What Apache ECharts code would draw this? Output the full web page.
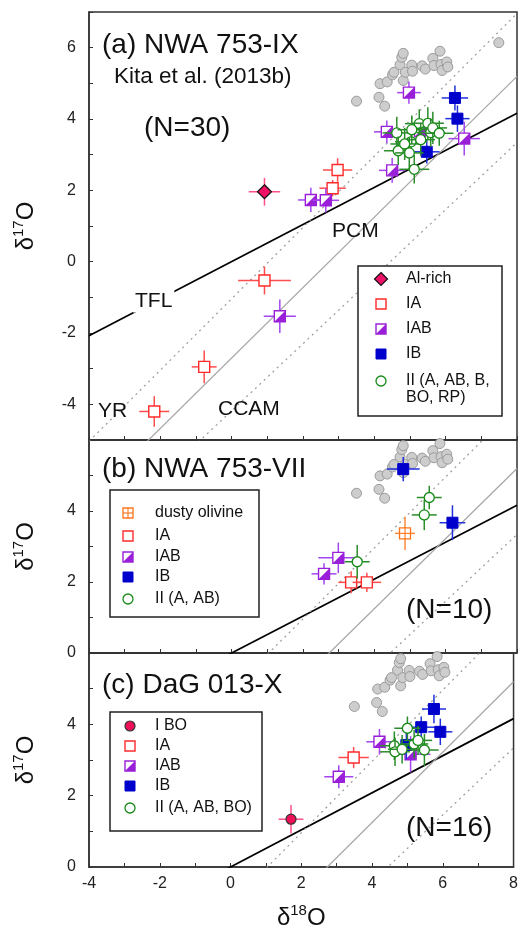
<!DOCTYPE html>
<html>
<head>
<meta charset="utf-8">
<script src="https://cdn.jsdelivr.net/npm/echarts@6/dist/echarts.min.js"></script>
<style>
  html, body { margin: 0; background: #fff; }
  #chart { width: 521px; height: 931px; }
</style>
</head>
<body>
<div id="chart"></div>
<script>
/* Three-panel oxygen three-isotope plot (d18O vs d17O), one grid per chondrule. */

// grey background cloud, same in every panel [d18O, d17O]
const GREY = [
  [3.50, 4.50], [4.13, 4.61], [4.29, 4.36], [4.16, 4.99], [4.36, 5.04],
  [4.51, 5.24], [4.55, 5.31], [4.72, 5.52], [4.77, 5.73], [4.81, 5.84],
  [4.81, 5.08], [4.87, 5.31], [5.05, 5.51], [5.07, 5.34], [5.34, 5.49],
  [5.43, 5.40], [5.64, 5.70], [5.67, 5.50], [5.84, 5.90], [5.87, 5.53],
  [5.90, 5.36], [6.03, 5.60], [6.06, 5.46], [7.49, 6.14],
];

// reference lines
const LINE_NAMES = ["TFL", "PCM", "YR", "CCAM"];
const LINE_SLOPE = [0.52, 0.987, 1.0, 0.94];
const LINE_ICEPT = [0, -2.70, -1.04, -4.18];

// points: [d18O, d17O, err d18O, err d17O]
// (a) NWA 753-IX
const A_ALRICH = [[0.92, 1.96, 0.44, 0.39]];
const A_IA = [
  [2.97, 2.57, 0.41, 0.33], [2.83, 2.06, 0.37, 0.23], [0.92, -0.53, 0.74, 0.39],
  [-0.77, -2.95, 0.35, 0.46], [-2.17, -4.20, 0.42, 0.43],
];
const A_IAB = [
  [4.97, 4.74, 0.33, 0.31], [2.22, 1.73, 0.36, 0.34], [2.64, 1.72, 0.37, 0.34],
  [1.35, -1.53, 0.45, 0.47], [4.35, 3.64, 0.36, 0.32], [5.28, 3.66, 0.37, 0.31],
  [6.52, 3.45, 0.44, 0.47], [4.50, 2.56, 0.37, 0.35],
];
const A_IB = [[6.26, 4.59, 0.37, 0.35], [6.33, 4.01, 0.34, 0.37], [5.47, 3.08, 0.36, 0.33]];
const A_II = [
  [4.63, 3.61, 0.40, 0.45], [5.03, 3.36, 0.45, 0.40], [4.67, 3.11, 0.40, 0.40],
  [4.98, 3.05, 0.40, 0.45], [5.12, 2.59, 0.42, 0.40], [5.26, 3.87, 0.40, 0.40],
  [5.50, 3.88, 0.45, 0.45], [5.58, 3.62, 0.40, 0.40], [5.64, 3.75, 0.40, 0.45],
  [5.82, 3.60, 0.40, 0.35], [5.30, 3.42, 0.40, 0.45], [5.05, 3.70, 0.40, 0.40],
  [4.85, 3.30, 0.40, 0.45],
];

// (b) NWA 753-VII
const B_DUSTY = [[4.86, 3.37, 0.28, 0.47]];
const B_IA = [[3.35, 1.99, 0.36, 0.31], [3.79, 1.99, 0.40, 0.27]];
const B_IAB = [[2.99, 2.68, 0.56, 0.43], [2.59, 2.23, 0.35, 0.30]];
const B_IB = [[4.81, 5.18, 0.46, 0.34], [6.19, 3.67, 0.36, 0.49]];
const B_II = [[3.52, 2.57, 0.35, 0.47], [5.54, 4.38, 0.35, 0.33], [5.40, 3.89, 0.35, 0.43]];

// (c) DaG 013-X
const C_IBO = [[1.71, 1.34, 0.35, 0.40]];
const C_IA = [[3.48, 3.07, 0.43, 0.30]];
const C_IAB = [[3.06, 2.53, 0.41, 0.32], [4.21, 3.51, 0.37, 0.36], [5.09, 3.16, 0.56, 0.51]];
const C_IB = [
  [5.75, 4.43, 0.34, 0.40], [5.39, 3.92, 0.42, 0.30], [5.93, 3.79, 0.34, 0.37],
  [4.97, 3.42, 0.40, 0.40],
];
const C_II = [
  [5.00, 3.89, 0.37, 0.33], [4.63, 3.40, 0.40, 0.40], [4.65, 3.23, 0.42, 0.40],
  [5.19, 3.45, 0.40, 0.40], [5.48, 3.28, 0.40, 0.45], [4.85, 3.30, 0.40, 0.40],
  [5.30, 3.55, 0.40, 0.40],
];

const X_MIN = -4, X_MAX = 8;
const Y_RANGES = [[-5, 7], [0, 6], [0, 6]];

// ---- looks ----
const FONT = '"Liberation Sans", Arial, sans-serif';
const KIND = {
  alrich: { shape: "diamond", col: "#ee1166", bar: "#ff4f8e" },
  ia: { shape: "openSquare", col: "#ff2a2a", bar: "#ff4d4d" },
  iab: { shape: "halfSquare", col: "#9a1fd8", bar: "#a445ee" },
  ib: { shape: "square", col: "#0000cc", bar: "#2030dd" },
  ii: { shape: "openCircle", col: "#168a16", bar: "#2a8c2a" },
  dusty: { shape: "gridSquare", col: "#ff7418", bar: "#ff8a3a" },
  ibo: { shape: "circle", col: "#ee1158", bar: "#ff4f8e" },
};

function markerEls(kind, cx, cy, s) {
  const k = KIND[kind], h = s / 2;
  switch (k.shape) {
    case "diamond":
      return [{ type: "polygon", shape: { points: [[cx, cy - h - 1.5], [cx + h + 1.5, cy], [cx, cy + h + 1.5], [cx - h - 1.5, cy]] },
        style: { fill: k.col, stroke: "#111", lineWidth: 1.2 } }];
    case "openSquare":
      return [{ type: "rect", shape: { x: cx - h, y: cy - h, width: s, height: s },
        style: { fill: "#fff", stroke: k.col, lineWidth: 1.4 } }];
    case "halfSquare":
      return [
        { type: "rect", shape: { x: cx - h, y: cy - h, width: s, height: s }, style: { fill: "#fff", stroke: k.col, lineWidth: 1.4 } },
        { type: "polygon", shape: { points: [[cx + h, cy - h], [cx + h, cy + h], [cx - h, cy + h]] }, style: { fill: k.col } },
      ];
    case "square":
      return [{ type: "rect", shape: { x: cx - h, y: cy - h, width: s, height: s }, style: { fill: k.col, stroke: k.col, lineWidth: 1 } }];
    case "openCircle":
      return [{ type: "circle", shape: { cx, cy, r: h }, style: { fill: "#fff", stroke: k.col, lineWidth: 1.3 } }];
    case "gridSquare":
      return [
        { type: "rect", shape: { x: cx - h, y: cy - h, width: s, height: s }, style: { fill: "#fff", stroke: k.col, lineWidth: 1.3 } },
        { type: "line", shape: { x1: cx, y1: cy - h, x2: cx, y2: cy + h }, style: { stroke: k.col, lineWidth: 1.1 } },
        { type: "line", shape: { x1: cx - h, y1: cy, x2: cx + h, y2: cy }, style: { stroke: k.col, lineWidth: 1.1 } },
      ];
    case "circle":
      return [{ type: "circle", shape: { cx, cy, r: h }, style: { fill: k.col, stroke: "#333", lineWidth: 1.2 } }];
  }
  return [];
}

function renderPt(kind) {
  return function (params, api) {
    const x = api.value(0), y = api.value(1), ex = api.value(2), ey = api.value(3);
    const c = api.coord([x, y]);
    const l = api.coord([x - ex, y]), r = api.coord([x + ex, y]);
    const t = api.coord([x, y + ey]), b = api.coord([x, y - ey]);
    const bar = KIND[kind].bar;
    return {
      type: "group",
      children: [
        { type: "line", shape: { x1: l[0], y1: l[1], x2: r[0], y2: r[1] }, style: { stroke: bar, lineWidth: 1.5 } },
        { type: "line", shape: { x1: t[0], y1: t[1], x2: b[0], y2: b[1] }, style: { stroke: bar, lineWidth: 1.5 } },
        ...markerEls(kind, c[0], c[1], kind === "ii" || kind === "ibo" ? 10 : 11),
      ],
    };
  };
}

const PANELS = [
  { top: 12, height: 428, sets: [["alrich", A_ALRICH], ["ia", A_IA], ["iab", A_IAB], ["ib", A_IB], ["ii", A_II]] },
  { top: 440, height: 213, sets: [["dusty", B_DUSTY], ["ia", B_IA], ["iab", B_IAB], ["ib", B_IB], ["ii", B_II]] },
  { top: 653, height: 214, sets: [["ibo", C_IBO], ["ia", C_IA], ["iab", C_IAB], ["ib", C_IB], ["ii", C_II]] },
];

const grid = [], xAxis = [], yAxis = [], series = [];
const AXIS_COL = "#333";
const supRich = {
  d: { fontSize: 24, fontFamily: FONT, color: "#111", lineHeight: 30 },
  s: { fontSize: 15, fontFamily: FONT, color: "#111", lineHeight: 30, verticalAlign: "top" },
};

PANELS.forEach((p, i) => {
  grid.push({ left: 89, right: 4, top: p.top, height: p.height, show: true, borderColor: AXIS_COL, borderWidth: 1.5 });
  const [ymin, ymax] = Y_RANGES[i];
  xAxis.push({
    gridIndex: i, type: "value", min: X_MIN, max: X_MAX, interval: 1,
    axisLine: { show: true, onZero: false, lineStyle: { color: AXIS_COL, width: 1.5 } },
    axisTick: { inside: true, length: 4, lineStyle: { color: AXIS_COL } },
    axisLabel: { show: i === 2, margin: 9, fontSize: 16, fontFamily: FONT, color: "#222",
      formatter: (v) => (v % 2 === 0 ? String(v) : "") },
    splitLine: { show: false },
    name: i === 2 ? "{d|δ}{s|18}{d|O}" : "",
    nameLocation: "middle", nameGap: 36,
    nameTextStyle: { rich: supRich },
  });
  yAxis.push({
    gridIndex: i, type: "value", min: ymin, max: ymax, interval: 1,
    axisLine: { show: true, onZero: false, lineStyle: { color: AXIS_COL, width: 1.5 } },
    axisTick: { inside: true, length: 4, lineStyle: { color: AXIS_COL } },
    axisLabel: { margin: 13, fontSize: 16, fontFamily: FONT, color: "#222",
      formatter: (v) => (v % 2 === 0 && (i === 0 || v < ymax) ? String(v) : "") },
    splitLine: { show: false },
    name: "{d|δ}{s|17}{d|O}", nameLocation: "middle", nameGap: 48, nameRotate: 90,
    nameTextStyle: { rich: supRich },
  });

  // grey cloud
  series.push({
    type: "scatter", xAxisIndex: i, yAxisIndex: i, data: GREY, clip: true, symbolSize: 10, z: 1,
    itemStyle: { color: "#cdcdcd", borderColor: "#9a9a9a", borderWidth: 1, opacity: 1 },
    silent: true,
  });

  // reference lines
  LINE_NAMES.forEach((nm, j) => {
    const isTFL = nm === "TFL", isPCM = nm === "PCM";
    series.push({
      type: "line", xAxisIndex: i, yAxisIndex: i, clip: true, silent: true, symbol: "none", z: 2,
      data: [[X_MIN, LINE_SLOPE[j] * X_MIN + LINE_ICEPT[j]], [X_MAX, LINE_SLOPE[j] * X_MAX + LINE_ICEPT[j]]],
      lineStyle: isTFL ? { color: "#000", width: 1.7 }
        : isPCM ? { color: "#a8a8a8", width: 1.3 }
        : { color: "#9a9a9a", width: 1.2, type: [2, 4] },
    });
  });

  // chondrule data
  p.sets.forEach(([kind, data]) => {
    series.push({
      type: "custom", xAxisIndex: i, yAxisIndex: i, coordinateSystem: "cartesian2d",
      data, clip: true, z: 5, encode: { x: 0, y: 1 }, renderItem: renderPt(kind),
    });
  });
});

// ---- annotations and legends (drawn as graphics) ----
function txt(text, x, y, size, extra) {
  return { type: "text", z: 50, style: Object.assign({ text, x, y, fill: "#111", font: `${size}px ${FONT}`, verticalAlign: "middle" }, extra || {}) };
}

function legendBox(box, mx, tx, rows) {
  const els = [{ type: "rect", z: 40, shape: { x: box[0], y: box[1], width: box[2], height: box[3] },
    style: { fill: "#fff", stroke: "#222", lineWidth: 1.5 } }];
  rows.forEach(([kind, label, y]) => {
    markerEls(kind, mx, y, 10).forEach((e) => els.push(Object.assign(e, { z: 41 })));
    const multi = label.includes("\n");
    els.push(txt(label, tx, multi ? y - 9 : y, 16, multi ? { verticalAlign: "top", lineHeight: 17 } : {}));
  });
  return els;
}

const graphic = [
  txt("(a) NWA 753-IX", 102, 45, 28),
  txt("Kita et al. (2013b)", 114, 77, 22.5),
  txt("(N=30)", 144, 128, 28),
  txt("PCM", 332, 231, 21),
  txt("TFL", 133, 301, 21, { backgroundColor: "#fff", padding: [1, 2] }),
  txt("YR", 98, 411, 21),
  txt("CCAM", 218, 409, 21),
  txt("(b) NWA 753-VII", 102, 469, 28),
  txt("(N=10)", 406, 610, 28),
  txt("(c) DaG 013-X", 102, 685, 28),
  txt("(N=16)", 406, 828, 28),
  ...legendBox([358, 266, 144, 150], 381, 406, [
    ["alrich", "Al-rich", 279], ["ia", "IA", 304], ["iab", "IAB", 329], ["ib", "IB", 354],
    ["ii", "II (A, AB, B,\nBO, RP)", 381],
  ]),
  ...legendBox([110, 490, 149, 127], 128, 155, [
    ["dusty", "dusty olivine", 513], ["ia", "IA", 536], ["iab", "IAB", 557], ["ib", "IB", 577],
    ["ii", "II (A, AB)", 599],
  ]),
  ...legendBox([110, 712, 152, 119], 130, 155, [
    ["ibo", "I BO", 726], ["ia", "IA", 746], ["iab", "IAB", 766], ["ib", "IB", 786],
    ["ii", "II (A, AB, BO)", 808],
  ]),
];

const chart = echarts.init(document.getElementById("chart"));
chart.setOption({ animation: false, grid, xAxis, yAxis, series, graphic });
</script>
</body>
</html>
